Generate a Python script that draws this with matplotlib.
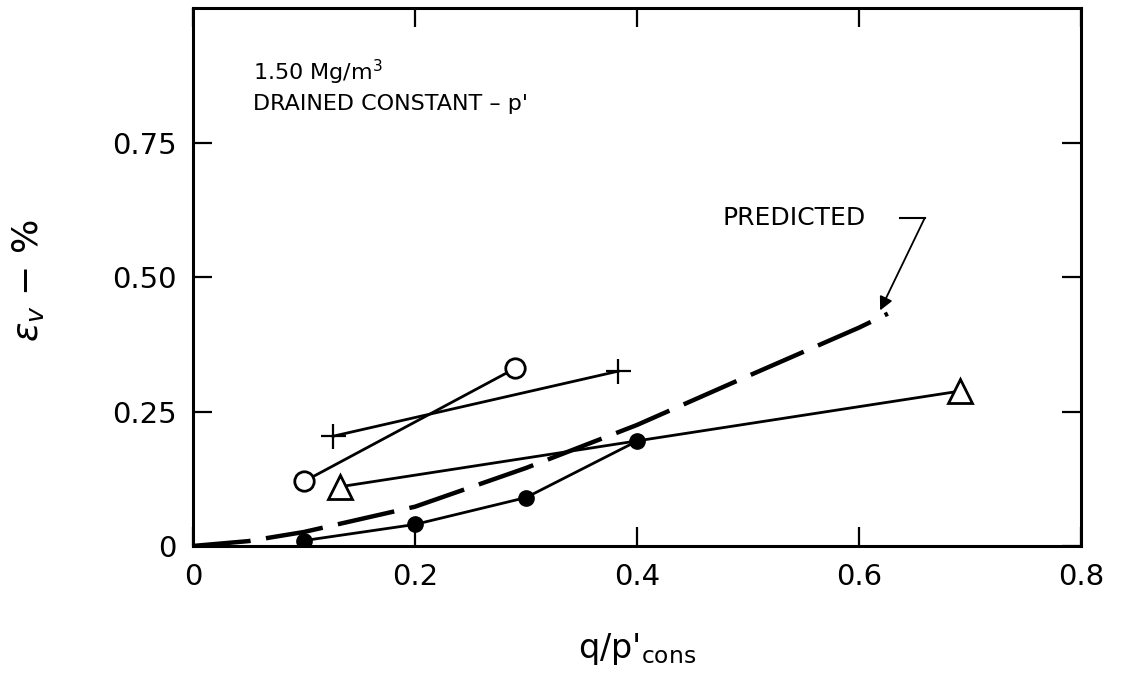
import numpy as np
import matplotlib.pyplot as plt

open_x = [0.10, 0.29]
open_y = [0.12, 0.33]
plus_x = [0.126, 0.383]
plus_y = [0.204, 0.325]
tri_x = [0.132, 0.691]
tri_y = [0.11, 0.288]
fill_x = [0.10, 0.20, 0.30, 0.40]
fill_y = [0.01, 0.04, 0.09, 0.195]
pred_x = [0.0, 0.05, 0.10, 0.20, 0.30, 0.40, 0.50, 0.60, 0.626]
pred_y = [0.0, 0.009, 0.026, 0.073, 0.145, 0.225, 0.316, 0.406, 0.432]

xticks = [0, 0.2, 0.4, 0.6, 0.8]
xticklabels = ['0', '0.2', '0.4', '0.6', '0.8']
yticks = [0, 0.25, 0.5, 0.75]
yticklabels = ['0', '0.25', '0.50', '0.75']

plt.rcParams['font.family'] = ['DejaVu Sans']
plt.rcParams['mathtext.fontset'] = 'dejavusans'

fig = plt.figure(figsize=(11.25, 6.85), dpi=100)
ax = fig.add_axes([0.1716, 0.203, 0.7893, 0.785])

lw = 2.0
ax.plot(pred_x, pred_y, color='black', lw=3.2, linestyle=(0, (13, 3.5)),
        dash_capstyle='butt', zorder=2)
ax.plot(tri_x, tri_y, color='black', lw=lw, marker='^', ms=17,
        mfc='white', mec='black', mew=2, zorder=3)
ax.plot(fill_x, fill_y, color='black', lw=lw, marker='o', ms=11,
        mfc='black', mec='black', zorder=4)
ax.plot(open_x, open_y, color='black', lw=lw, marker='o', ms=14,
        mfc='white', mec='black', mew=2, zorder=3)
ax.plot(plus_x, plus_y, color='black', lw=lw, marker='+', ms=18,
        mew=1.6, zorder=3)

ax.set_xlim(0, 0.8)
ax.set_ylim(0, 1.0)
ax.set_xticks(xticks)
ax.set_xticklabels(xticklabels)
ax.set_yticks(yticks)
ax.set_yticklabels(yticklabels)
ax.tick_params(direction='in', length=14, width=1.6, labelsize=21,
               top=True, right=True, pad=12)
for s in ax.spines.values():
    s.set_linewidth(2.2)

ax.text(0.054, 0.88, r'1.50 Mg/m$^3$', fontsize=16, va='center', ha='left')
ax.text(0.054, 0.822, "DRAINED CONSTANT \u2013 p'", fontsize=16,
        va='center', ha='left')

ax.text(0.477, 0.609, 'PREDICTED', fontsize=18, va='center', ha='left')
ax.plot([0.637, 0.659], [0.609, 0.609], color='black', lw=1.5)
ax.annotate('', xy=(0.619, 0.438), xytext=(0.659, 0.609),
            arrowprops=dict(arrowstyle='-|>', color='black', lw=1.3,
                            mutation_scale=20, shrinkA=0, shrinkB=0))

fig.text(0.025, 0.59, r'$\epsilon_v$ $-$ %', rotation=90, fontsize=26,
         ha='center', va='center')
fig.text(0.566, 0.052, r"q/p$'_{\mathregular{cons}}$", fontsize=24,
         ha='center', va='center')

fig.savefig('out.png', dpi=100, facecolor='white')
